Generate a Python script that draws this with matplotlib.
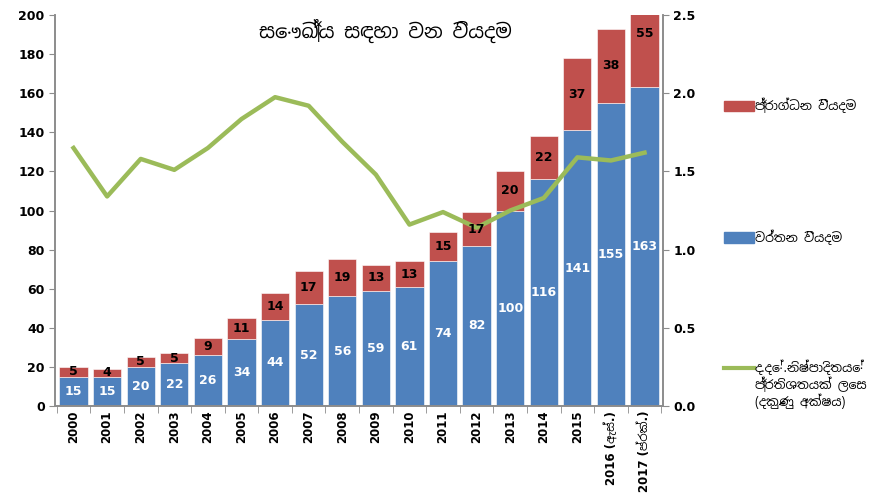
import matplotlib
matplotlib.use("Agg")
import matplotlib.pyplot as plt
from matplotlib.lines import Line2D
from matplotlib.patches import Patch
import numpy as np

plt.rcParams["font.family"] = ["DejaVu Sans", "Noto Sans Sinhala"]
SI = ["Noto Sans Sinhala", "DejaVu Sans"]

years = ["2000", "2001", "2002", "2003", "2004", "2005", "2006", "2007", "2008",
         "2009", "2010", "2011", "2012", "2013", "2014", "2015",
         "2016 (ඇස්.)", "2017 (ප්‍රක්.)"]
recurrent = [15, 15, 20, 22, 26, 34, 44, 52, 56, 59, 61, 74, 82, 100, 116, 141, 155, 163]
capital = [5, 4, 5, 5, 9, 11, 14, 17, 19, 13, 13, 15, 17, 20, 22, 37, 38, 55]
gdp_pct = [1.65, 1.34, 1.58, 1.51, 1.65, 1.835, 1.975, 1.92, 1.69, 1.48,
           1.16, 1.24, 1.14, 1.25, 1.33, 1.59, 1.57, 1.62]

title = "සෞඛ්‍ය සඳහා වන වියදම"
lbl_cap = "ප්‍රාග්ධන වියදම"
lbl_rec = "වර්තන වියදම"
lbl_gdp = ["ද.දේ.නිෂ්පාදිතයේ", "ප්‍රතිශතයක් ලෙස", "(දකුණු අක්ෂය)"]

blue, red, green = "#4F81BD", "#C0504D", "#9BBB59"
grey = "#8c8c8c"

fig = plt.figure(figsize=(8.74, 5.03), dpi=100)
ax = fig.add_axes([0.063, 0.193, 0.6956, 0.777])
x = np.arange(len(years))

ax.bar(x, recurrent, 0.84, color=blue, edgecolor="white", linewidth=0.4)
ax.bar(x, capital, 0.84, bottom=recurrent, color=red, edgecolor="white", linewidth=0.4)

ax.set_xlim(-0.55, len(years) - 0.45)
ax.set_ylim(0, 200)
ax.set_yticks(range(0, 201, 20))
ax.set_xticks(x)
ax.set_xticklabels(years, rotation=90, fontsize=8.5, fontweight="bold")
ax.set_xticks(np.arange(-0.5, len(years), 1), minor=True)
ax.tick_params(axis="x", which="major", length=0)
ax.tick_params(axis="x", which="minor", length=5, color=grey)
ax.tick_params(axis="y", length=4, color=grey, labelsize=9)
for t in ax.get_yticklabels():
    t.set_fontweight("bold")

ax2 = ax.twinx()
ax2.plot(x, gdp_pct, color=green, lw=3.2, zorder=2)
ax2.set_ylim(0, 2.5)
ax2.set_yticks(np.arange(0, 2.51, 0.5))
ax2.set_yticklabels([f"{v:.1f}" for v in np.arange(0, 2.51, 0.5)])
ax2.tick_params(axis="y", length=4, color=grey, labelsize=9)
for t in ax2.get_yticklabels():
    t.set_fontweight("bold")

# value labels sit above the line, so put them on the top axes in bar coords
for xi, r, c in zip(x, recurrent, capital):
    ax2.text(xi, r / 2, str(r), transform=ax.transData, ha="center", va="center",
             color="white", fontsize=9, fontweight="bold", zorder=5)
    ax2.text(xi, r + c / 2, str(c), transform=ax.transData, ha="center", va="center",
             color="black", fontsize=9, fontweight="bold", zorder=5)

for a in (ax, ax2):
    a.spines["top"].set_visible(False)
    for s in ("left", "right", "bottom"):
        a.spines[s].set_color(grey)
        a.spines[s].set_linewidth(1.2)

ax.text(0.543, 0.96, title, transform=ax.transAxes, ha="center", va="center",
        fontsize=14, family=SI)

leg_font = {"family": SI, "size": 9}
fig.legend(handles=[Patch(color=red)], labels=[lbl_cap], loc="center left",
           bbox_to_anchor=(0.815, 0.79), frameon=False, prop=leg_font,
           handlelength=2.4, handleheight=0.9, handletextpad=0.1)
fig.legend(handles=[Patch(color=blue)], labels=[lbl_rec], loc="center left",
           bbox_to_anchor=(0.815, 0.529), frameon=False, prop=leg_font,
           handlelength=2.4, handleheight=0.9, handletextpad=0.1)
leg3 = fig.legend(handles=[Line2D([], [], color=green, lw=3)], labels=[lbl_gdp[0]],
                  loc="center left", bbox_to_anchor=(0.815, 0.27), frameon=False,
                  prop=leg_font, handlelength=2.4, handletextpad=0.1)

# the other two lines of the green entry, lined up under its first line
fig.canvas.draw()
tx = leg3.get_texts()[0].get_window_extent().x0 / fig.bbox.width
for i, s in enumerate(lbl_gdp[1:]):
    fig.text(tx, 0.27 - (i + 1) * 0.034, s, ha="left", va="center", family=SI, fontsize=9)

fig.savefig("out.png", dpi=100)
